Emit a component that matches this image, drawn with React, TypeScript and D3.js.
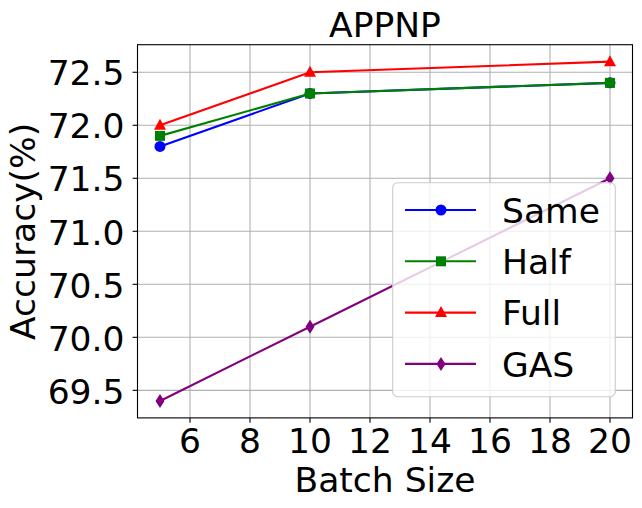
import React from 'react';
import * as d3 from 'd3';

const batchSizes = [5, 10, 20];
const same = [71.8, 72.3, 72.4];
const half = [71.9, 72.3, 72.4];
const full = [72.0, 72.5, 72.6];
const gas = [69.4, 70.1, 71.5];
const xTicks = [6, 8, 10, 12, 14, 16, 18, 20];
const yTicks = [69.5, 70.0, 70.5, 71.0, 71.5, 72.0, 72.5];

const series = [
  { name: 'Same', values: same, color: 'blue', marker: 'circle' },
  { name: 'Half', values: half, color: 'green', marker: 'square' },
  { name: 'Full', values: full, color: 'red', marker: 'triangle' },
  { name: 'GAS', values: gas, color: 'purple', marker: 'diamond' },
];

const W = 642;
const H = 508;
const left = 137.5;
const right = 632.5;
const top = 44.7;
const bottom = 417.9;
const font = 'DejaVu Sans, sans-serif';
const fs = 34.5;

const Marker = ({ kind, x, y, color }: { kind: string; x: number; y: number; color: string }) => {
  if (kind === 'circle') return <circle cx={x} cy={y} r={5.5} fill={color} />;
  if (kind === 'square') return <rect x={x - 5} y={y - 5} width={10} height={10} fill={color} />;
  if (kind === 'triangle')
    return <path d={`M${x},${y - 6.5} L${x + 6},${y + 4.5} L${x - 6},${y + 4.5} Z`} fill={color} />;
  return <path d={`M${x},${y - 7} L${x + 4.5},${y} L${x},${y + 7} L${x - 4.5},${y} Z`} fill={color} />;
};

export default function App() {
  const x = d3.scaleLinear().domain([4.25, 20.75]).range([left, right]);
  const y = d3.scaleLinear().domain([69.24, 72.76]).range([bottom, top]);
  const line = d3
    .line<number>()
    .x((_, i) => x(batchSizes[i]))
    .y((d) => y(d));

  // legend layout
  const lx = 392.7;
  const ly = 182.7;
  const lw = 222.6;
  const lh = 214;
  const rowY = (i: number) => 210 + i * 51.3;

  return (
    <svg width={W} height={H} style={{ position: 'absolute', left: 0, top: 0 }} fontFamily={font}>
      <rect width={W} height={H} fill="white" />
      {/* grid */}
      {xTicks.map((t) => (
        <line key={'gx' + t} x1={x(t)} x2={x(t)} y1={top} y2={bottom} stroke="#b0b0b0" strokeWidth={1.1} />
      ))}
      {yTicks.map((t) => (
        <line key={'gy' + t} x1={left} x2={right} y1={y(t)} y2={y(t)} stroke="#b0b0b0" strokeWidth={1.1} />
      ))}
      {/* lines */}
      {series.map((s) => (
        <g key={s.name}>
          <path d={line(s.values)!} fill="none" stroke={s.color} strokeWidth={2.1} />
          {s.values.map((v, i) => (
            <Marker key={i} kind={s.marker} x={x(batchSizes[i])} y={y(v)} color={s.color} />
          ))}
        </g>
      ))}
      {/* spines */}
      <rect x={left} y={top} width={right - left} height={bottom - top} fill="none" stroke="black" strokeWidth={1.1} />
      {/* ticks */}
      {xTicks.map((t) => (
        <g key={'tx' + t}>
          <line x1={x(t)} x2={x(t)} y1={bottom} y2={bottom + 4.9} stroke="black" strokeWidth={1.1} />
          <text x={x(t)} y={452.7} textAnchor="middle" fontSize={fs}>
            {t}
          </text>
        </g>
      ))}
      {yTicks.map((t) => (
        <g key={'ty' + t}>
          <line x1={left - 4.9} x2={left} y1={y(t)} y2={y(t)} stroke="black" strokeWidth={1.1} />
          <text x={124.5} y={y(t) + 13.2} textAnchor="end" fontSize={fs}>
            {t.toFixed(1)}
          </text>
        </g>
      ))}
      {/* title and labels */}
      <text x={(left + right) / 2} y={36.7} textAnchor="middle" fontSize={fs}>
        APPNP
      </text>
      <text x={(left + right) / 2} y={491.7} textAnchor="middle" fontSize={fs}>
        Batch Size
      </text>
      <text transform={`translate(35,${(top + bottom) / 2}) rotate(-90)`} textAnchor="middle" fontSize={fs}>
        Accuracy(%)
      </text>
      {/* legend */}
      <rect x={lx} y={ly} width={lw} height={lh} rx={5} fill="white" fillOpacity={0.8} stroke="#cccccc" strokeWidth={1.1} />
      {series.map((s, i) => (
        <g key={'lg' + s.name}>
          <line x1={405} x2={476} y1={rowY(i)} y2={rowY(i)} stroke={s.color} strokeWidth={2.1} />
          <Marker kind={s.marker} x={441} y={rowY(i)} color={s.color} />
          <text x={502} y={rowY(i) + 12.6} fontSize={fs}>
            {s.name}
          </text>
        </g>
      ))}
    </svg>
  );
}
